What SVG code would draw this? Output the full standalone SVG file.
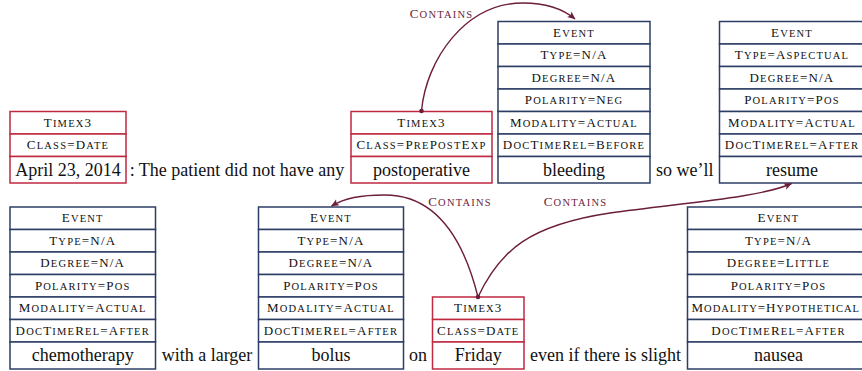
<svg xmlns="http://www.w3.org/2000/svg" width="862" height="371" viewBox="0 0 862 371">
<defs>
<style>
text{font-family:"Liberation Serif","Times New Roman",serif;fill:#111;}
.sc{font-size:13px;letter-spacing:1.2px;text-anchor:middle;}
.s{font-size:10.5px;}
.w{font-size:18px;text-anchor:middle;}
.tx rect{fill:#fff;stroke:#bf2a40;stroke-width:1.5;}
.ev rect{fill:#fff;stroke:#2c3e66;stroke-width:1.5;}
.lbl{fill:#6b1d3b;}
.arc{fill:none;stroke:#6b1d3b;stroke-width:1.4;}
.dot{fill:#6b1d3b;}
</style>
<marker id="ah" markerWidth="9" markerHeight="8" refX="7.5" refY="4" orient="auto" markerUnits="userSpaceOnUse">
<path d="M0,0.5 L8,4 L0,7.5 L2,4 Z" fill="#6b1d3b"/>
</marker>
</defs>

<g id="timex-april">
<g class="tx">
<rect x="10" y="111.5" width="116" height="22.5"/>
<rect x="10" y="134" width="116" height="22.5"/>
<rect x="10" y="156.5" width="116" height="26.5"/>
</g>
<text class="sc" x="68" y="126.9">T<tspan class="s">IMEX</tspan>3</text>
<text class="sc" x="68" y="149.4">C<tspan class="s">LASS</tspan>=D<tspan class="s">ATE</tspan></text>
<text class="w" x="68" y="175.5">April 23, 2014</text>
</g>

<g id="timex-postoperative">
<g class="tx">
<rect x="351" y="111.5" width="141" height="22.5"/>
<rect x="351" y="134" width="141" height="22.5"/>
<rect x="351" y="156.5" width="141" height="26.5"/>
</g>
<text class="sc" x="421.5" y="126.9">T<tspan class="s">IMEX</tspan>3</text>
<text class="sc" x="421.5" y="149.4">C<tspan class="s">LASS</tspan>=P<tspan class="s">RE</tspan>P<tspan class="s">OST</tspan>E<tspan class="s">XP</tspan></text>
<text class="w" x="421.5" y="175.5">postoperative</text>
</g>

<g id="event-bleeding">
<g class="ev">
<rect x="498" y="21.5" width="152" height="22.5"/>
<rect x="498" y="44" width="152" height="22.5"/>
<rect x="498" y="66.5" width="152" height="22.5"/>
<rect x="498" y="89" width="152" height="22.5"/>
<rect x="498" y="111.5" width="152" height="22.5"/>
<rect x="498" y="134" width="152" height="22.5"/>
<rect x="498" y="156.5" width="152" height="26.5"/>
</g>
<text class="sc" x="574" y="36.9">E<tspan class="s">VENT</tspan></text>
<text class="sc" x="574" y="59.4">T<tspan class="s">YPE</tspan>=N/A</text>
<text class="sc" x="574" y="81.9">D<tspan class="s">EGREE</tspan>=N/A</text>
<text class="sc" x="574" y="104.4">P<tspan class="s">OLARITY</tspan>=N<tspan class="s">EG</tspan></text>
<text class="sc" x="574" y="126.9">M<tspan class="s">ODALITY</tspan>=A<tspan class="s">CTUAL</tspan></text>
<text class="sc" x="574" y="149.4">D<tspan class="s">OC</tspan>T<tspan class="s">IME</tspan>R<tspan class="s">EL</tspan>=B<tspan class="s">EFORE</tspan></text>
<text class="w" x="574" y="175.5">bleeding</text>
</g>

<g id="event-resume">
<g class="ev">
<rect x="719.5" y="21.5" width="145" height="22.5"/>
<rect x="719.5" y="44" width="145" height="22.5"/>
<rect x="719.5" y="66.5" width="145" height="22.5"/>
<rect x="719.5" y="89" width="145" height="22.5"/>
<rect x="719.5" y="111.5" width="145" height="22.5"/>
<rect x="719.5" y="134" width="145" height="22.5"/>
<rect x="719.5" y="156.5" width="145" height="26.5"/>
</g>
<text class="sc" x="792" y="36.9">E<tspan class="s">VENT</tspan></text>
<text class="sc" x="792" y="59.4">T<tspan class="s">YPE</tspan>=A<tspan class="s">SPECTUAL</tspan></text>
<text class="sc" x="792" y="81.9">D<tspan class="s">EGREE</tspan>=N/A</text>
<text class="sc" x="792" y="104.4">P<tspan class="s">OLARITY</tspan>=P<tspan class="s">OS</tspan></text>
<text class="sc" x="792" y="126.9">M<tspan class="s">ODALITY</tspan>=A<tspan class="s">CTUAL</tspan></text>
<text class="sc" x="792" y="149.4">D<tspan class="s">OC</tspan>T<tspan class="s">IME</tspan>R<tspan class="s">EL</tspan>=A<tspan class="s">FTER</tspan></text>
<text class="w" x="792" y="175.5">resume</text>
</g>

<g id="event-chemotherapy">
<g class="ev">
<rect x="10" y="207" width="145.5" height="22.5"/>
<rect x="10" y="229.5" width="145.5" height="22.5"/>
<rect x="10" y="252" width="145.5" height="22.5"/>
<rect x="10" y="274.5" width="145.5" height="22.5"/>
<rect x="10" y="297" width="145.5" height="22.5"/>
<rect x="10" y="319.5" width="145.5" height="22.5"/>
<rect x="10" y="342" width="145.5" height="27"/>
</g>
<text class="sc" x="82.75" y="222.4">E<tspan class="s">VENT</tspan></text>
<text class="sc" x="82.75" y="244.9">T<tspan class="s">YPE</tspan>=N/A</text>
<text class="sc" x="82.75" y="267.4">D<tspan class="s">EGREE</tspan>=N/A</text>
<text class="sc" x="82.75" y="289.9">P<tspan class="s">OLARITY</tspan>=P<tspan class="s">OS</tspan></text>
<text class="sc" x="82.75" y="312.4">M<tspan class="s">ODALITY</tspan>=A<tspan class="s">CTUAL</tspan></text>
<text class="sc" x="82.75" y="334.9">D<tspan class="s">OC</tspan>T<tspan class="s">IME</tspan>R<tspan class="s">EL</tspan>=A<tspan class="s">FTER</tspan></text>
<text class="w" x="82.75" y="361">chemotherapy</text>
</g>

<g id="event-bolus">
<g class="ev">
<rect x="258.5" y="207" width="145" height="22.5"/>
<rect x="258.5" y="229.5" width="145" height="22.5"/>
<rect x="258.5" y="252" width="145" height="22.5"/>
<rect x="258.5" y="274.5" width="145" height="22.5"/>
<rect x="258.5" y="297" width="145" height="22.5"/>
<rect x="258.5" y="319.5" width="145" height="22.5"/>
<rect x="258.5" y="342" width="145" height="27"/>
</g>
<text class="sc" x="331" y="222.4">E<tspan class="s">VENT</tspan></text>
<text class="sc" x="331" y="244.9">T<tspan class="s">YPE</tspan>=N/A</text>
<text class="sc" x="331" y="267.4">D<tspan class="s">EGREE</tspan>=N/A</text>
<text class="sc" x="331" y="289.9">P<tspan class="s">OLARITY</tspan>=P<tspan class="s">OS</tspan></text>
<text class="sc" x="331" y="312.4">M<tspan class="s">ODALITY</tspan>=A<tspan class="s">CTUAL</tspan></text>
<text class="sc" x="331" y="334.9">D<tspan class="s">OC</tspan>T<tspan class="s">IME</tspan>R<tspan class="s">EL</tspan>=A<tspan class="s">FTER</tspan></text>
<text class="w" x="331" y="361">bolus</text>
</g>

<g id="timex-friday">
<g class="tx">
<rect x="432.5" y="297" width="91.5" height="22.5"/>
<rect x="432.5" y="319.5" width="91.5" height="22.5"/>
<rect x="432.5" y="342" width="91.5" height="27"/>
</g>
<text class="sc" x="478.25" y="312.4">T<tspan class="s">IMEX</tspan>3</text>
<text class="sc" x="478.25" y="334.9">C<tspan class="s">LASS</tspan>=D<tspan class="s">ATE</tspan></text>
<text class="w" x="478.25" y="361">Friday</text>
</g>

<g id="event-nausea">
<g class="ev">
<rect x="687.5" y="207" width="182" height="22.5"/>
<rect x="687.5" y="229.5" width="182" height="22.5"/>
<rect x="687.5" y="252" width="182" height="22.5"/>
<rect x="687.5" y="274.5" width="182" height="22.5"/>
<rect x="687.5" y="297" width="182" height="22.5"/>
<rect x="687.5" y="319.5" width="182" height="22.5"/>
<rect x="687.5" y="342" width="182" height="27"/>
</g>
<text class="sc" x="778.5" y="222.4">E<tspan class="s">VENT</tspan></text>
<text class="sc" x="778.5" y="244.9">T<tspan class="s">YPE</tspan>=N/A</text>
<text class="sc" x="778.5" y="267.4">D<tspan class="s">EGREE</tspan>=L<tspan class="s">ITTLE</tspan></text>
<text class="sc" x="778.5" y="289.9">P<tspan class="s">OLARITY</tspan>=P<tspan class="s">OS</tspan></text>
<text class="sc" x="691.5" y="312.4" style="text-anchor:start;letter-spacing:0.6px" textLength="168" lengthAdjust="spacing">M<tspan class="s">ODALITY</tspan>=H<tspan class="s">YPOTHETICAL</tspan></text>
<text class="sc" x="778.5" y="334.9">D<tspan class="s">OC</tspan>T<tspan class="s">IME</tspan>R<tspan class="s">EL</tspan>=A<tspan class="s">FTER</tspan></text>
<text class="w" x="778.5" y="361">nausea</text>
</g>

<g id="sentence">
<text class="w" x="237" y="175.5">: The patient did not have any</text>
<text class="w" x="684.75" y="175.5">so we’ll</text>
<text class="w" x="207" y="361">with a larger</text>
<text class="w" x="418" y="361">on</text>
<text class="w" x="605.5" y="361">even if there is slight</text>
</g>

<g id="connectors">
<path class="arc" d="M421.5,111 C426,60 465,3 523,3 C548,3 563,9 575,19" marker-end="url(#ah)"/>
<circle class="dot" cx="421.5" cy="111" r="2.3"/>
<path class="arc" d="M478,297 C465,245 440,195 385,195 C360,195 345,198 331.5,206" marker-end="url(#ah)"/>
<path class="arc" d="M478,297 C500,250 530,225 610,213 C680,203 760,198 791.5,183.5" marker-end="url(#ah)"/>
<circle class="dot" cx="478" cy="297" r="2.3"/>
<text class="sc lbl" x="441.5" y="18.3">C<tspan class="s">ONTAINS</tspan></text>
<text class="sc lbl" x="460" y="206">C<tspan class="s">ONTAINS</tspan></text>
<text class="sc lbl" x="575.5" y="206">C<tspan class="s">ONTAINS</tspan></text>
</g>
</svg>
